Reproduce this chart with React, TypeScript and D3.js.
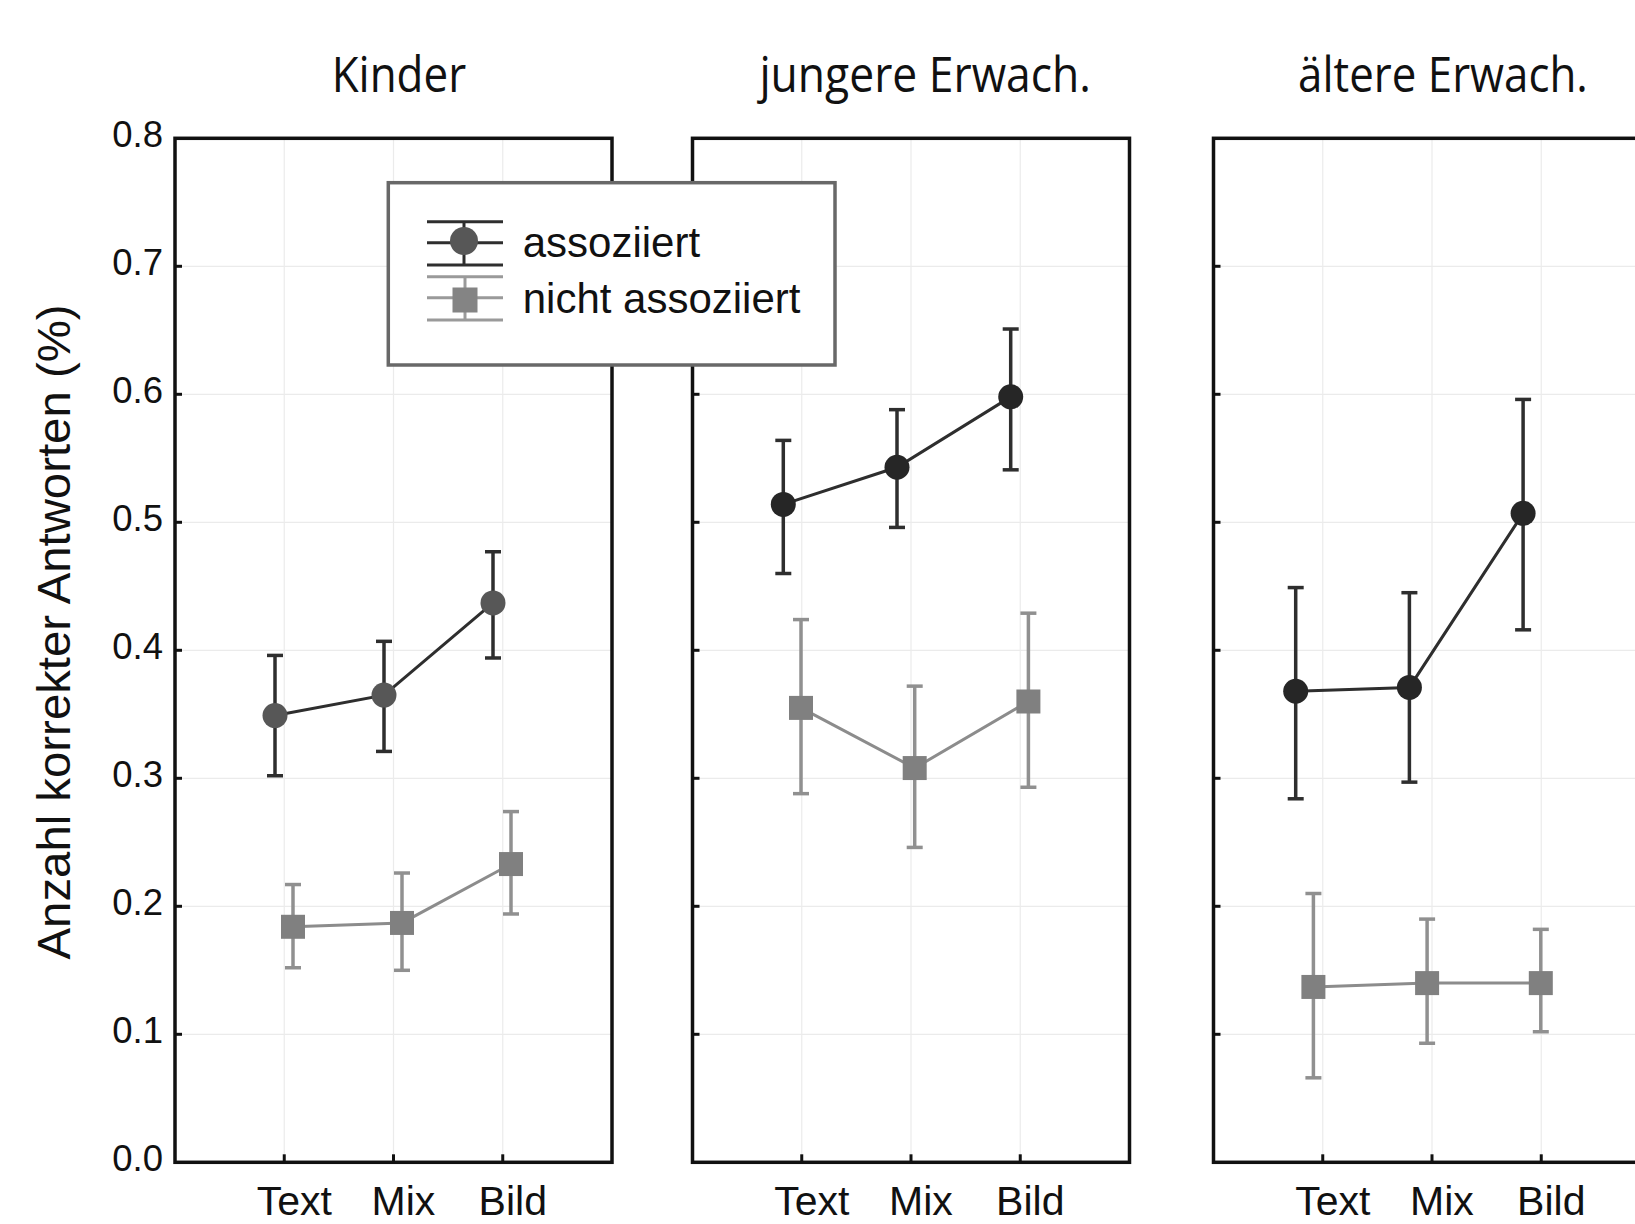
import React from "react";
import * as d3 from "d3";

// ---------- data ----------
const categories = ["Text", "Mix", "Bild"];
const groups = ["Kinder", "jungere Erwach.", "ältere Erwach."];
const seriesNames = ["assoziiert", "nicht assoziiert"];
const yTicks = [0, 0.1, 0.2, 0.3, 0.4, 0.5, 0.6, 0.7, 0.8];
const yTitle = "Anzahl korrekter Antworten (%)";

const assozMean = [
  [0.349, 0.365, 0.437],
  [0.514, 0.543, 0.598],
  [0.368, 0.371, 0.507],
];
const assozUpper = [
  [0.396, 0.407, 0.477],
  [0.564, 0.588, 0.651],
  [0.449, 0.445, 0.596],
];
const assozLower = [
  [0.302, 0.321, 0.394],
  [0.46, 0.496, 0.541],
  [0.284, 0.297, 0.416],
];
const nichtMean = [
  [0.184, 0.187, 0.233],
  [0.355, 0.308, 0.36],
  [0.137, 0.14, 0.14],
];
const nichtUpper = [
  [0.217, 0.226, 0.274],
  [0.424, 0.372, 0.429],
  [0.21, 0.19, 0.182],
];
const nichtLower = [
  [0.152, 0.15, 0.194],
  [0.288, 0.246, 0.293],
  [0.066, 0.093, 0.102],
];

// ---------- layout / style ----------
const W = 1635;
const H = 1224;
const plotTop = 138.3;
const plotBottom = 1162.3;
const panelLefts = [175, 692.5, 1213.5];
const panelW = 437;
const markLayout = [
  { spacing: 109, dodge: [-9.5, 8.5] },
  { spacing: 113.7, dodge: [-14, 3.7] },
  { spacing: 113.7, dodge: [-22.6, -4.9] },
];
const circleFill = ["#575757", "#262626", "#262626"];
const titleDx = [5.4, 14.2, 11];
const titleW = [134.5, 331.6, 289.8];
const SANS = "'Liberation Sans', Arial, Helvetica, sans-serif";
const TITLE_FONT = "'Open Sans', 'Noto Sans', sans-serif";
const DARK = "#2e2e2e";
const GRAYLINE = "#8c8c8c";
const GRAYMARK = "#808080";

const y = d3.scaleLinear().domain([0, 0.8]).range([plotBottom, plotTop]);

function ErrorBar({ x, lo, hi, color, w }: any) {
  const cap = 8;
  return (
    <g stroke={color} strokeWidth={w} fill="none">
      <line x1={x} x2={x} y1={y(lo)} y2={y(hi)} />
      <line x1={x - cap} x2={x + cap} y1={y(hi)} y2={y(hi)} />
      <line x1={x - cap} x2={x + cap} y1={y(lo)} y2={y(lo)} />
    </g>
  );
}

function Panel({ idx }: { idx: number }) {
  const left = panelLefts[idx];
  const xTick = d3.scaleLinear().domain([0, 4]).range([left, left + panelW]);
  const { spacing, dodge } = markLayout[idx];
  const mkX = (s: number) =>
    d3
      .scaleLinear()
      .domain([0, 2])
      .range([xTick(2) + dodge[s] - spacing, xTick(2) + dodge[s] + spacing]);
  const xa = mkX(0);
  const xn = mkX(1);
  const line = (xs: any, vals: number[]) =>
    d3
      .line<number>()
      .x((_, i) => xs(i))
      .y((v) => y(v))(vals) as string;

  return (
    <g>
      {/* grid */}
      <g stroke="#ebebeb" strokeWidth={1.2}>
        {yTicks.slice(1, -1).map((t) => (
          <line key={t} x1={left} x2={left + panelW} y1={y(t)} y2={y(t)} />
        ))}
        {categories.map((c, i) => (
          <line key={c} x1={xTick(i + 1)} x2={xTick(i + 1)} y1={plotTop} y2={plotBottom} />
        ))}
      </g>
      {/* frame */}
      <rect
        x={left}
        y={plotTop}
        width={panelW}
        height={plotBottom - plotTop}
        fill="none"
        stroke="#111"
        strokeWidth={3.5}
      />
      {/* ticks */}
      <g stroke="#111" strokeWidth={3}>
        {yTicks.slice(1, -1).map((t) => (
          <line key={t} x1={left} x2={left + 7} y1={y(t)} y2={y(t)} />
        ))}
        {categories.map((c, i) => (
          <line key={c} x1={xTick(i + 1)} x2={xTick(i + 1)} y1={plotBottom} y2={plotBottom - 8} />
        ))}
      </g>
      {/* x labels */}
      {categories.map((c, i) => (
        <text
          key={c}
          x={xTick(i + 1) + 10}
          y={1214.5}
          textAnchor="middle"
          fontFamily={SANS}
          fontSize={41}
          fill="#111"
        >
          {c}
        </text>
      ))}
      {/* nicht assoziiert */}
      <path d={line(xn, nichtMean[idx])} fill="none" stroke={GRAYLINE} strokeWidth={3} />
      {nichtMean[idx].map((v, i) => (
        <ErrorBar
          key={"ne" + i}
          x={xn(i)}
          lo={nichtLower[idx][i]}
          hi={nichtUpper[idx][i]}
          color="#909090"
          w={3.5}
        />
      ))}
      {nichtMean[idx].map((v, i) => (
        <rect key={"ns" + i} x={xn(i) - 12} y={y(v) - 12} width={24} height={24} fill={GRAYMARK} />
      ))}
      {/* assoziiert */}
      <path d={line(xa, assozMean[idx])} fill="none" stroke={DARK} strokeWidth={3} />
      {assozMean[idx].map((v, i) => (
        <ErrorBar
          key={"ae" + i}
          x={xa(i)}
          lo={assozLower[idx][i]}
          hi={assozUpper[idx][i]}
          color={DARK}
          w={3.5}
        />
      ))}
      {assozMean[idx].map((v, i) => (
        <circle key={"ac" + i} cx={xa(i)} cy={y(v)} r={12.5} fill={circleFill[idx]} />
      ))}
      {/* title */}
      <text
        x={left + panelW / 2 + titleDx[idx]}
        y={91.8}
        textAnchor="middle"
        fontFamily={TITLE_FONT}
        fontSize={50}
        textLength={titleW[idx]}
        lengthAdjust="spacingAndGlyphs"
        fill="#111"
      >
        {groups[idx]}
      </text>
    </g>
  );
}

function Legend() {
  const lx = 388.3;
  const ly = 182.7;
  return (
    <g>
      <rect x={lx} y={ly} width={446.7} height={182.3} fill="#fff" stroke="#686868" strokeWidth={3.5} />
      {/* assoziiert symbol */}
      <g stroke={DARK} strokeWidth={3}>
        <line x1={427} x2={503} y1={221.7} y2={221.7} />
        <line x1={427} x2={503} y1={242.7} y2={242.7} />
        <line x1={427} x2={503} y1={265} y2={265} />
        <line x1={464} x2={464} y1={221.7} y2={265} />
      </g>
      <circle cx={464} cy={241} r={14} fill="#575757" />
      {/* nicht assoziiert symbol */}
      <g stroke="#9a9a9a" strokeWidth={3}>
        <line x1={427} x2={503} y1={276.7} y2={276.7} />
        <line x1={427} x2={503} y1={297.7} y2={297.7} />
        <line x1={427} x2={503} y1={320} y2={320} />
        <line x1={465} x2={465} y1={276.7} y2={320} />
      </g>
      <rect x={452.5} y={287.5} width={25} height={25} fill="#848484" />
      <text x={522.7} y={257} fontFamily={SANS} fontSize={42} fill="#111">
        {seriesNames[0]}
      </text>
      <text x={522.7} y={312.7} fontFamily={SANS} fontSize={42} fill="#111">
        {seriesNames[1]}
      </text>
    </g>
  );
}

export default function App() {
  return (
    <div style={{ position: "absolute", left: 0, top: 0, width: W, height: H, overflow: "hidden", background: "#fff" }}>
      <svg width={W} height={H} style={{ display: "block" }}>
        <rect x={0} y={0} width={W} height={H} fill="#fff" />
        {groups.map((g, i) => (
          <Panel key={g} idx={i} />
        ))}
        {/* y tick labels */}
        {yTicks.map((t) => (
          <text
            key={t}
            x={163}
            y={y(t) + 8.8}
            textAnchor="end"
            fontFamily={SANS}
            fontSize={36.5}
            fill="#111"
          >
            {t.toFixed(1)}
          </text>
        ))}
        {/* y title */}
        <text
          transform={`translate(70,${632}) rotate(-90)`}
          textAnchor="middle"
          fontFamily={SANS}
          fontSize={46}
          textLength={655}
          lengthAdjust="spacingAndGlyphs"
          fill="#111"
        >
          {yTitle}
        </text>
        <Legend />
      </svg>
    </div>
  );
}
